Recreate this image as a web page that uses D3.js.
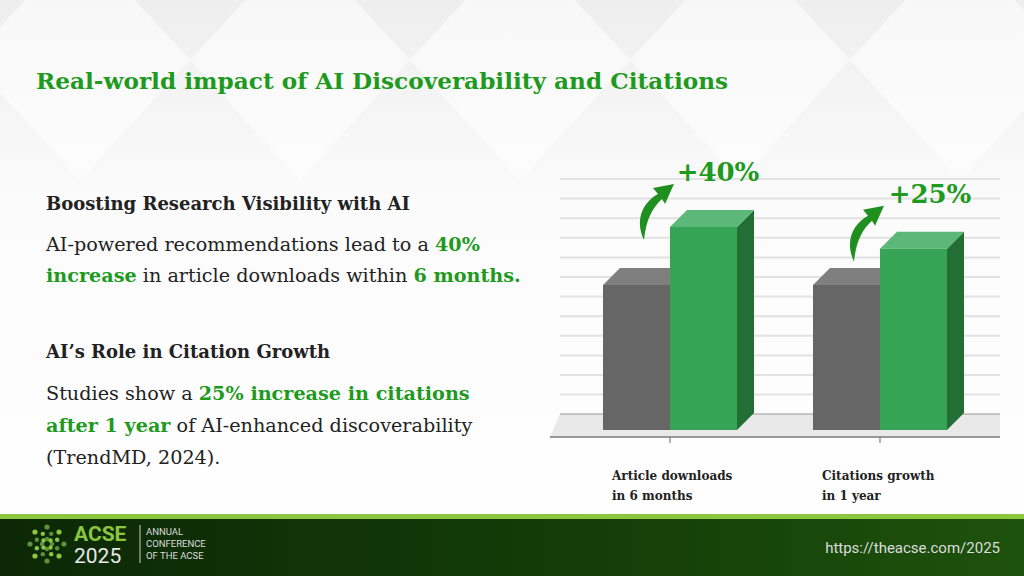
<!DOCTYPE html>
<html><head><meta charset="utf-8">
<script src="https://cdn.jsdelivr.net/npm/d3@7"></script>
<style>body{margin:0;}svg{display:block;}</style>
</head><body><svg id="c" width="1024" height="576"></svg>
<script>
const categories = ["Article downloads|in 6 months", "Citations growth|in 1 year"];
const baselineValues = [100, 100];
const aiValues = [140, 125];
const growthLabels = ["+40%", "+25%"];

const svg = d3.select("#c");
const serif = "'DejaVu Serif','Liberation Serif',serif";
const green = "#1e9a1e";

const defs = svg.append("defs");
const bg = defs.append("linearGradient").attr("id","bg").attr("x1",0).attr("y1",0).attr("x2",0).attr("y2",1);
bg.append("stop").attr("offset",0).attr("stop-color","#eeeeee");
bg.append("stop").attr("offset",0.35).attr("stop-color","#fbfbfb");
bg.append("stop").attr("offset",1).attr("stop-color","#ffffff");
svg.append("rect").attr("width",1024).attr("height",576).attr("fill","url(#bg)");
[[80,0],[300,0],[520,0],[740,0],[960,0]].forEach(([x,y])=>{
  svg.append("path").attr("d",`M${x},${y-60}L${x+110},${y+60}L${x},${y+180}L${x-110},${y+60}Z`)
    .attr("fill","#ffffff").attr("opacity",0.55);
});

svg.append("text").attr("x",36).attr("y",89).attr("font-family",serif).attr("font-weight","bold")
  .attr("font-size",23.2).attr("fill",green).text("Real-world impact of AI Discoverability and Citations");

function rich(y, parts, size, bold){
  const t = svg.append("text").attr("x",46).attr("y",y).attr("font-family",serif).attr("font-size",size).attr("fill","#222");
  parts.forEach(p=>t.append("tspan").attr("font-weight",(bold||p[1])?"bold":"normal").attr("fill",p[1]?green:"#222").text(p[0]));
}
rich(210,[["Boosting Research Visibility with AI",false]],18,true);
rich(251,[["AI-powered recommendations lead to a ",false],["40%",true]],19.2);
rich(282,[["increase",true],[" in article downloads within ",false],["6 months.",true]],19.2);
rich(358,[["AI’s Role in Citation Growth",false]],18,true);
rich(400,[["Studies show a ",false],["25% increase in citations",true]],19.2);
rich(432,[["after 1 year",true],[" of AI-enhanced discoverability",false]],19.2);
rich(464,[["(TrendMD, 2024).",false]],19.2);

const y = d3.scaleLinear().domain([0,100]).range([430,285]);
const x = d3.scaleBand().domain(categories).range([603,1023]).paddingInner(0);
const barW = 67, dx = 17, dy = 17;
const g = svg.append("g");
g.append("path").attr("d","M560,414L1000,414L1000,437L550,437Z").attr("fill","#e9e9e9");
g.append("line").attr("x1",560).attr("x2",1000).attr("y1",414).attr("y2",414).attr("stroke","#9a9a9a").attr("stroke-width",1.2);
g.append("line").attr("x1",550).attr("x2",1000).attr("y1",437).attr("y2",437).attr("stroke","#999").attr("stroke-width",2);
for(let i=0;i<12;i++){
  const yy = 179 + i*19.6;
  g.append("line").attr("x1",560).attr("x2",1000).attr("y1",yy).attr("y2",yy).attr("stroke","#e2e2e2").attr("stroke-width",2);
}
function bar(x0, v, front, top, side){
  const yt = y(v), yb = y(0);
  g.append("path").attr("d",`M${x0+barW},${yb}L${x0+barW+dx},${yb-dy}L${x0+barW+dx},${yt-dy}L${x0+barW},${yt}Z`).attr("fill",side);
  g.append("path").attr("d",`M${x0},${yt}L${x0+dx},${yt-dy}L${x0+barW+dx},${yt-dy}L${x0+barW},${yt}Z`).attr("fill",top);
  g.append("rect").attr("x",x0).attr("y",yt).attr("width",barW).attr("height",yb-yt).attr("fill",front);
}
categories.forEach((c,i)=>{
  const x0 = x(c);
  bar(x0, baselineValues[i], "#666666", "#7f7f7f", "#555");
  bar(x0+barW, aiValues[i], "#35a555", "#5cb878", "#236e35");
  g.append("line").attr("x1",x0+barW).attr("x2",x0+barW).attr("y1",437).attr("y2",443).attr("stroke","#666");
  const ax = x0+barW-26, ay = y(aiValues[i]) + 13;
  g.append("path").attr("d",
    `M${ax},${ay} C${ax-10},${ay-22} ${ax+0},${ay-38} ${ax+14},${ay-46} L${ax+9},${ay-52} L${ax+30},${ay-56} L${ax+21},${ay-36} L${ax+18},${ay-41} C${ax+8},${ay-32} ${ax+2},${ay-20} ${ax},${ay}Z`)
    .attr("fill","#1f8f1f");
  svg.append("text").attr("x", i==0 ? x0+115 : x0+117).attr("y", i==0?181:203)
    .attr("text-anchor","middle").attr("font-family",serif).attr("font-weight","bold").attr("font-size",26)
    .attr("fill",green).text(growthLabels[i]);
  c.split("|").forEach((l,k)=>svg.append("text").attr("x",x0+9).attr("y",480+k*20).attr("font-family",serif)
    .attr("font-weight","bold").attr("font-size",12).attr("fill","#222").text(l));
});

const fg = defs.append("linearGradient").attr("id","fg");
fg.append("stop").attr("offset",0).attr("stop-color","#0c2806");
fg.append("stop").attr("offset",0.5).attr("stop-color","#123a07");
fg.append("stop").attr("offset",1).attr("stop-color","#1d520c");
svg.append("rect").attr("x",0).attr("y",514).attr("width",1024).attr("height",62).attr("fill","url(#fg)");
svg.append("rect").attr("x",0).attr("y",514).attr("width",1024).attr("height",5).attr("fill","#8cc63f");
const lg = svg.append("g").attr("transform","translate(47,544)");
for(let r of [5,11,17]) for(let a=0;a<8;a++){
  const an = a*Math.PI/4 + (r==11?Math.PI/8:0);
  lg.append("circle").attr("cx",r*Math.cos(an)).attr("cy",r*Math.sin(an)).attr("r",r==17?2.6:2.2)
    .attr("fill", a%2?"#8cc63f":"#5f8f3f");
}
svg.append("text").attr("x",74).attr("y",541).attr("font-family","Roboto,sans-serif").attr("font-weight","bold").attr("font-size",21).attr("fill","#8cc63f").text("ACSE");
svg.append("text").attr("x",74).attr("y",563).attr("font-family","Roboto,sans-serif").attr("font-size",21).attr("fill","#e8e8e8").text("2025");
svg.append("line").attr("x1",140).attr("x2",140).attr("y1",525).attr("y2",563).attr("stroke","#ccc");
["ANNUAL","CONFERENCE","OF THE ACSE"].forEach((t,k)=>svg.append("text").attr("x",146).attr("y",535+k*12)
  .attr("font-family","Roboto,sans-serif").attr("font-size",9.5).attr("fill","#ddd").text(t));
svg.append("text").attr("x",1000).attr("y",553).attr("text-anchor","end").attr("font-family","Roboto,sans-serif")
  .attr("font-size",15).attr("fill","#ddd").text("https://theacse.com/2025");
</script></body></html>
